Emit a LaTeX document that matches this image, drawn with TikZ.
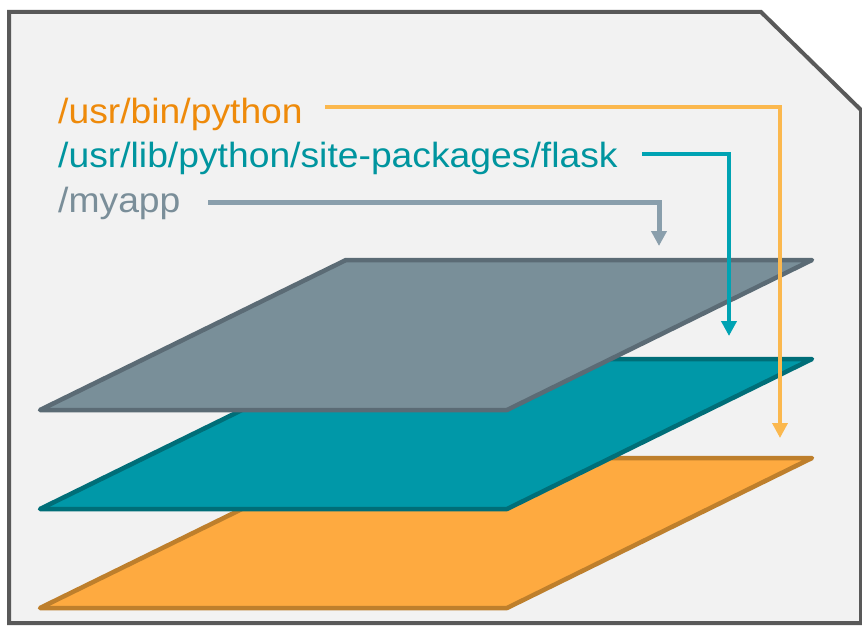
\documentclass[tikz,border=0pt]{standalone}
\usepackage{fontspec}
\newfontfamily\arialfont{Liberation Sans}
\usetikzlibrary{arrows.meta}
\definecolor{bgfill}{HTML}{F2F2F2}
\definecolor{bgline}{HTML}{595959}
\definecolor{greyfill}{HTML}{798F99}
\definecolor{greyline}{HTML}{5B6B75}
\definecolor{tealfill}{HTML}{0098A8}
\definecolor{tealline}{HTML}{006E78}
\definecolor{orfill}{HTML}{FEAA40}
\definecolor{orline}{HTML}{BE7F2C}
\definecolor{ortext}{HTML}{EE8A0A}
\definecolor{tealtext}{HTML}{00959F}
\definecolor{greytext}{HTML}{7A8E99}
\definecolor{orconn}{HTML}{FBB84E}
\definecolor{tealconn}{HTML}{00A3B3}
\definecolor{greyconn}{HTML}{8A9FAC}
\tikzset{
  layer/.style={line width=4.5pt, line join=round},
  pathlabel/.style={anchor=base west, inner sep=0pt, font=\arialfont\fontsize{35}{40}\selectfont},
  conn/.style={line join=miter, -{Triangle[length=15pt,width=15pt]}},
}
\begin{document}
\begin{tikzpicture}[x=1pt,y=-1pt]
\useasboundingbox (0,0) rectangle (862,626);
% outer frame
\draw[fill=bgfill, draw=bgline, line width=4pt, line join=miter]
  (9,12) -- (761,12) -- (861,110) -- (861,623) -- (9,623) -- cycle;
% layers
\draw[layer, fill=orfill, draw=orline] (40,608) -- (346,458) -- (812,458) -- (507,608) -- cycle;
\draw[layer, fill=tealfill, draw=tealline] (40,509) -- (346,359) -- (812,359) -- (507,509) -- cycle;
\draw[layer, fill=greyfill, draw=greyline] (40,410) -- (346,260) -- (812,260) -- (507,410) -- cycle;
% labels
\node[pathlabel, text=ortext] (lpython) at (58,123) {\scalebox{1.065}[1]{/usr/bin/python}};
\node[pathlabel, text=tealtext] (lflask) at (58,167) {\scalebox{1.065}[1]{/usr/lib/python/site-packages/flask}};
\node[pathlabel, text=greytext] (lmyapp) at (58,212) {\scalebox{1.065}[1]{/myapp}};
% connector points
\coordinate (oa) at (325,107);
\coordinate (ob) at (780,107);
\coordinate (oc) at (780,438);
\coordinate (ta) at (642,154);
\coordinate (tb) at (729,154);
\coordinate (tc) at (729,336);
\coordinate (ga) at (208,202);
\coordinate (gb) at (659,202);
\coordinate (gc) at (659,246);
% connectors
\draw[conn, draw=orconn, line width=3.5pt] (oa) -- (ob) -- (oc);
\draw[conn, draw=tealconn, line width=4.5pt] (ta) -- (tb) -- (tc);
\draw[conn, draw=greyconn, line width=5pt] (ga) -- (gb) -- (gc);
\end{tikzpicture}
\end{document}
